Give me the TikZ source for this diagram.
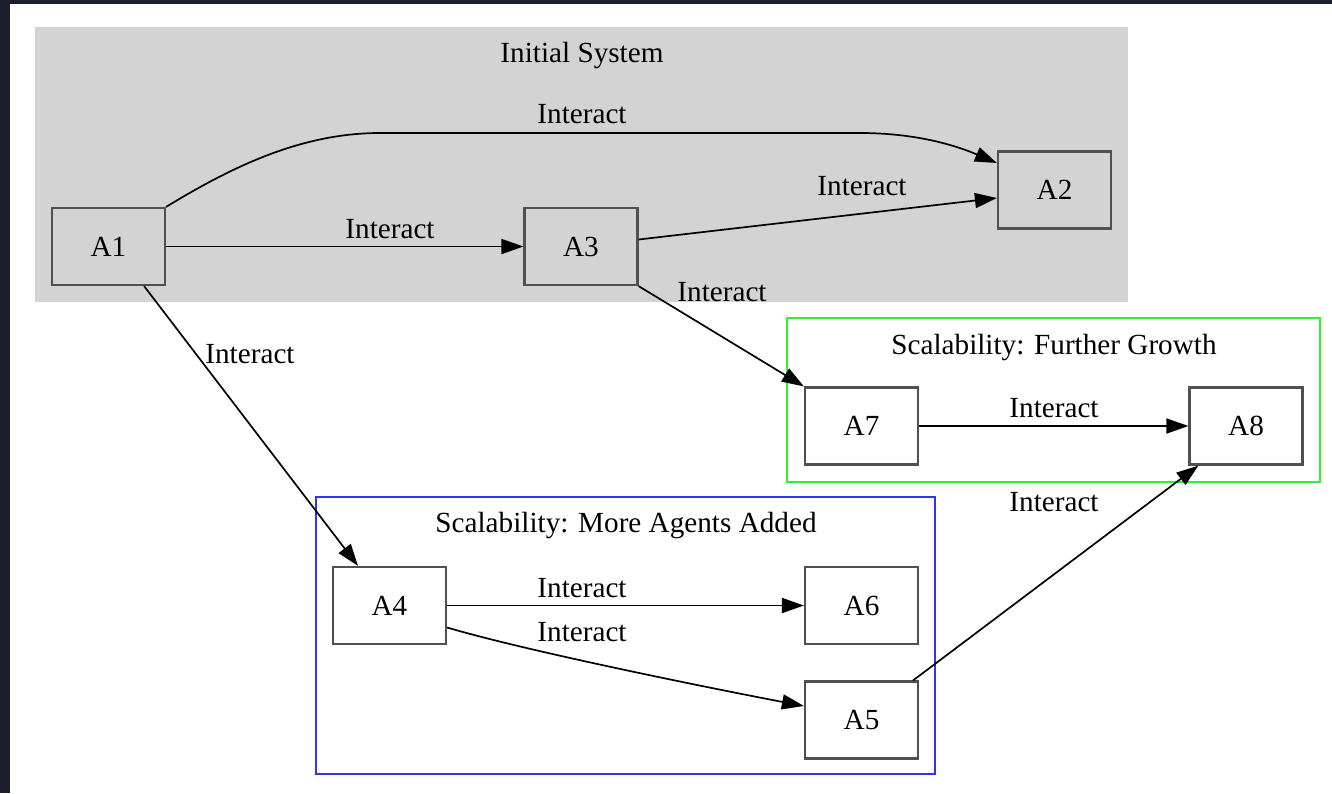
\documentclass[tikz,border=0pt]{standalone}
\usepackage{fontspec}
\setmainfont{Liberation Serif}
\usetikzlibrary{arrows.meta}
\definecolor{frame}{HTML}{1A1F2B}
\definecolor{clustergray}{HTML}{D3D3D3}
\definecolor{nodeborder}{HTML}{505050}
\definecolor{growthgreen}{HTML}{33EE33}
\definecolor{addedblue}{HTML}{3333EE}
\tikzset{
  agent/.style={draw=nodeborder, line width=1.1pt, minimum width=56.5pt, minimum height=38.5pt,
    inner sep=0pt, font=\fontsize{14.6}{17}\selectfont},
  link/.style={draw=black, line width=0.85pt, -{Triangle[length=11pt,width=7.5pt]}},
  lbl/.style={font=\fontsize{14.6}{17}\selectfont, inner sep=0pt},
  cluster/.style={line width=0.8pt}
}
\begin{document}
\begin{tikzpicture}[x=0.5pt, y=-0.5pt]
  \useasboundingbox (0,0) rectangle (1332,793);
  \fill[white] (0,0) rectangle (1332,793);
  % dark window frame
  \fill[frame] (0,0) rectangle (1332,4);
  \fill[frame] (0,0) rectangle (10,793);

  % clusters
  \fill[clustergray] (35,27) rectangle (1128,302);
  \node[lbl] (tInit) at (582,56) {Initial System};
  \draw[cluster, growthgreen] (787,318) rectangle (1320,482);
  \node[lbl] (tGrowth) at (1054,348) {Scalability: Further Growth};
  \draw[cluster, addedblue] (316,497) rectangle (935,774);
  \node[lbl] (tAdded) at (626,526) {Scalability: More Agents Added};

  % agents
  \node[agent] (A1) at (108.5,246.5) {A1};
  \node[agent] (A3) at (581,246.5) {A3};
  \node[agent] (A2) at (1054.5,190) {A2};
  \node[agent, fill=white] (A7) at (861.5,426) {A7};
  \node[agent, fill=white] (A8) at (1246,426) {A8};
  \node[agent, fill=white] (A4) at (389.5,605.5) {A4};
  \node[agent, fill=white] (A6) at (861.5,605.5) {A6};
  \node[agent, fill=white] (A5) at (861.5,720) {A5};

  % connector end points on the node borders
  \coordinate (A2top) at ([yshift=13.5pt]A2.west);
  \coordinate (A2mid) at ([yshift=-4pt]A2.west);
  \coordinate (A3out) at ([yshift=3.5pt]A3.east);
  \coordinate (A1low) at ([xshift=-11pt]A1.south east);
  \coordinate (A4top) at ([xshift=-15.75pt]A4.north);
  \coordinate (A4low) at ([yshift=-11pt]A4.east);
  \coordinate (A5in) at ([yshift=7pt]A5.west);
  \coordinate (A5out) at ([xshift=-3pt]A5.north east);
  \coordinate (A8low) at ([xshift=5pt]A8.south west);

  % connectors
  \draw[link] (A1.north east) .. controls (230,168) and (300,133) .. (380,133)
    -- (860,133) .. controls (910,133) and (950,143) .. (A2top);
  \node[lbl] (l12) at (582,114) {Interact};

  \draw[link] (A1.east) -- (A3.west);
  \node[lbl] (l13) at (390,229) {Interact};

  \draw[link] (A3out) -- (A2mid);
  \node[lbl] (l32) at (862,186) {Interact};

  \draw[link] (A3.south east) -- (A7.north west);
  \node[lbl] (l37) at (722,292) {Interact};

  \draw[link] (A1low) -- (A4top);
  \node[lbl] (l14) at (250,354) {Interact};

  \draw[link] (A4.east) -- (A6.west);
  \node[lbl] (l46) at (582,588) {Interact};

  \draw[link] (A4low) .. controls (530,652) and (720,690) .. (A5in);
  \node[lbl] (l45) at (582,632) {Interact};

  \draw[link] (A7.east) -- (A8.west);
  \node[lbl] (l78) at (1054,408) {Interact};

  \draw[link] (A5out) -- (A8low);
  \node[lbl] (l58) at (1054,502) {Interact};
\end{tikzpicture}
\end{document}
